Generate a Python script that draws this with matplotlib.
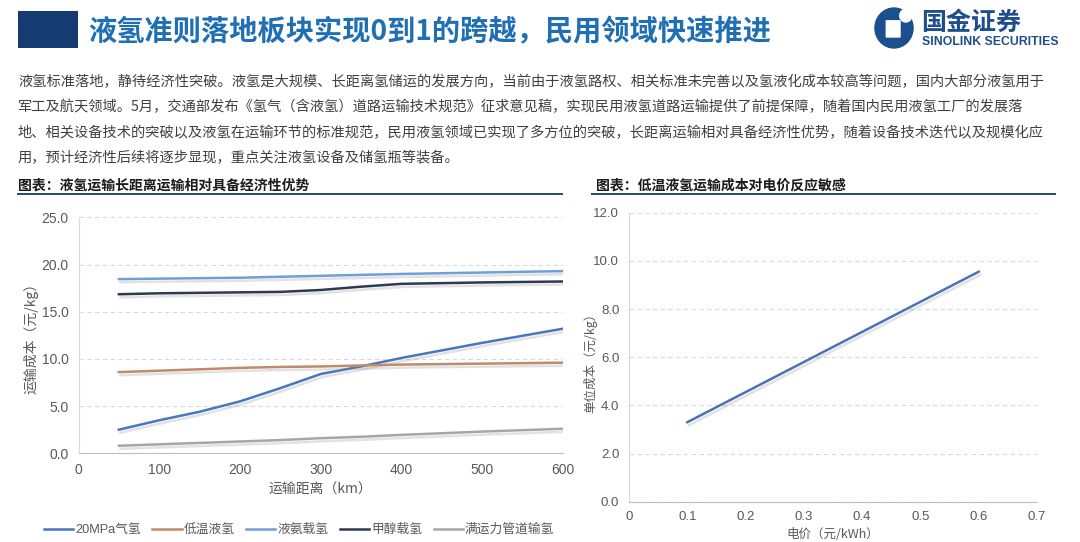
import matplotlib

matplotlib.use("Agg")
import matplotlib.pyplot as plt
import matplotlib.patheffects as pe
from matplotlib.lines import Line2D
from matplotlib.patches import Rectangle, Circle, FancyBboxPatch

# ---- data ----
distance_km = [50, 100, 150, 200, 250, 300, 350, 400, 500, 600]
cost_20mpa = [2.5, 3.5, 4.4, 5.5, 6.9, 8.4, 9.2, 10.1, 11.7, 13.2]
cost_liquid_h2 = [8.6, 8.75, 8.9, 9.05, 9.15, 9.2, 9.3, 9.4, 9.5, 9.6]
cost_ammonia = [18.45, 18.5, 18.55, 18.6, 18.7, 18.8, 18.9, 19.0, 19.15, 19.3]
cost_methanol = [16.85, 16.95, 17.0, 17.05, 17.1, 17.3, 17.65, 17.95, 18.1, 18.2]
cost_pipeline = [0.8, 0.95, 1.1, 1.25, 1.4, 1.6, 1.75, 1.95, 2.3, 2.6]
series_names = ["20MPa气氢", "低温液氢", "液氨载氢", "甲醇载氢", "满运力管道输氢"]

power_price = [0.1, 0.2, 0.3, 0.4, 0.5, 0.6]
unit_cost = [3.3, 4.55, 5.8, 7.05, 8.3, 9.55]

left_xticks = [0, 100, 200, 300, 400, 500, 600]
left_yticks = [0, 5, 10, 15, 20, 25]
right_xticks = [0, 0.1, 0.2, 0.3, 0.4, 0.5, 0.6, 0.7]
right_xlabels = ["0", "0.1", "0.2", "0.3", "0.4", "0.5", "0.6", "0.7"]
right_yticks = [0, 2, 4, 6, 8, 10, 12]

title = "液氢准则落地板块实现0到1的跨越，民用领域快速推进"
body_lines = [
    "液氢标准落地，静待经济性突破。液氢是大规模、长距离氢储运的发展方向，当前由于液氢路权、相关标准未完善以及氢液化成本较高等问题，国内大部分液氢用于",
    "军工及航天领域。5月，交通部发布《氢气（含液氢）道路运输技术规范》征求意见稿，实现民用液氢道路运输提供了前提保障，随着国内民用液氢工厂的发展落",
    "地、相关设备技术的突破以及液氢在运输环节的标准规范，民用液氢领域已实现了多方位的突破，长距离运输相对具备经济性优势，随着设备技术迭代以及规模化应",
    "用，预计经济性后续将逐步显现，重点关注液氢设备及储氢瓶等装备。",
]
left_heading = "图表：液氢运输长距离运输相对具备经济性优势"
right_heading = "图表：低温液氢运输成本对电价反应敏感"

W, H = 1080, 542
CJK = ["Noto Sans CJK SC", "DejaVu Sans"]
NUM = ["Liberation Sans", "Noto Sans CJK SC", "DejaVu Sans"]
GRAY = "#595959"
GRID = "#d9d9d9"

plt.rcParams["font.family"] = CJK


def fx(px):
    return px / W


def fy(py):
    return 1 - py / H


def shadow():
    return [pe.SimpleLineShadow(offset=(1.2, -2.2), shadow_color="#8c8c8c", alpha=0.25), pe.Normal()]


def style_axes(ax, size=10):
    for side in ["top", "right"]:
        ax.spines[side].set_visible(False)
    ax.spines["left"].set_color(GRID)
    ax.spines["bottom"].set_color("#bfbfbf")
    ax.tick_params(length=0, colors=GRAY, labelsize=size, pad=7)
    for lab in ax.get_xticklabels() + ax.get_yticklabels():
        lab.set_family(NUM)
    ax.grid(axis="y", color=GRID, linestyle=(0, (4, 3)), linewidth=0.8)
    ax.set_axisbelow(True)


fig = plt.figure(figsize=(W / 100, H / 100), dpi=100)

# ---- header ----
fig.patches.append(Rectangle((fx(18), fy(48)), fx(60), 37 / H, transform=fig.transFigure,
                             facecolor="#143c73", edgecolor="none"))
fig.text(fx(88), fy(32), title, fontsize=20.3, weight="bold", color="#1f6fb4", va="center", ha="left")

# logo
logo_ax = fig.add_axes([fx(873), fy(50), fx(42), 44 / H])
logo_ax.set_xlim(0, 1)
logo_ax.set_ylim(0, 1)
logo_ax.axis("off")
logo_ax.add_patch(Circle((0.5, 0.5), 0.47, facecolor="#1b4f8f", edgecolor="none"))
logo_ax.add_patch(Circle((0.78, 0.78), 0.16, facecolor="white", edgecolor="none"))
logo_ax.add_patch(FancyBboxPatch((0.32, 0.3), 0.32, 0.36, boxstyle="round,pad=0.02",
                                 facecolor="white", edgecolor="none"))
fig.text(fx(921), fy(23), "国金证券", fontsize=18, weight="bold", color="#1f4e8c", va="center", ha="left")
fig.text(fx(922), fy(42), "SINOLINK SECURITIES", fontsize=8.8, weight="bold", color="#1f4e8c",
         va="center", ha="left", family=NUM)

# body text
for i, line in enumerate(body_lines):
    fig.text(fx(18), fy(82 + i * 25.3), line, fontsize=10.25, color="#404040", va="center", ha="left")

# section headings
fig.text(fx(18), fy(186), left_heading, fontsize=10, weight="bold", style="italic", color="#1a1a1a",
         va="center", ha="left")
fig.text(fx(596), fy(186), right_heading, fontsize=10, weight="bold", style="italic", color="#1a1a1a",
         va="center", ha="left")
fig.lines.append(Line2D([fx(18), fx(562)], [fy(193.5)] * 2, transform=fig.transFigure,
                        color="#24476b", linewidth=1.4))
fig.lines.append(Line2D([fx(592), fx(1055)], [fy(193.5)] * 2, transform=fig.transFigure,
                        color="#24476b", linewidth=1.4))

# ---- left chart ----
ax1 = fig.add_axes([fx(78.5), fy(453.3), fx(563 - 78.5), (453.3 - 217.3) / H])
series = [cost_20mpa, cost_liquid_h2, cost_ammonia, cost_methanol, cost_pipeline]
colors = ["#4777bd", "#c08a6c", "#6f9fd6", "#2d3a4f", "#a6a6a6"]
handles = []
for vals, name, c in zip(series, series_names, colors):
    ax1.plot(distance_km, vals, color=c, linewidth=1.8, path_effects=shadow())
    handles.append(Line2D([], [], color=c, linewidth=1.8, label=name))
ax1.set_xlim(0, 600)
ax1.set_ylim(0, 25)
ax1.set_xticks(left_xticks)
ax1.set_yticks(left_yticks)
ax1.set_yticklabels([f"{v:.1f}" for v in left_yticks])
style_axes(ax1)
fig.text(fx(320), fy(490), "运输距离（km）", fontsize=10, color=GRAY, ha="center", va="center")
fig.text(fx(31), fy(335), "运输成本（元/kg）", fontsize=10, color=GRAY, ha="center", va="center",
         rotation=90)
fig.legend(handles=handles, loc="center", bbox_to_anchor=(fx(299), fy(530)), ncol=5, frameon=False,
           handlelength=2.3, columnspacing=0.9, handletextpad=0.15, labelcolor=GRAY,
           prop={"family": NUM, "size": 9.2})

# ---- right chart ----
ax2 = fig.add_axes([fx(629), fy(501.7), fx(1037 - 629), (501.7 - 212.7) / H])
ax2.plot(power_price, unit_cost, color="#4a72b8", linewidth=1.8, path_effects=shadow())
ax2.set_xlim(0, 0.7)
ax2.set_ylim(0, 12)
ax2.set_xticks(right_xticks)
ax2.set_xticklabels(right_xlabels)
ax2.set_yticks(right_yticks)
ax2.set_yticklabels([f"{v:.1f}" for v in right_yticks])
style_axes(ax2, size=9.5)
fig.text(fx(833), fy(535), "电价（元/kWh）", fontsize=9, color=GRAY, ha="center", va="center")
fig.text(fx(590), fy(360), "单位成本（元/kg）", fontsize=9, color=GRAY, ha="center", va="center",
         rotation=90)

fig.savefig("out.png", dpi=100)
plt.close(fig)
